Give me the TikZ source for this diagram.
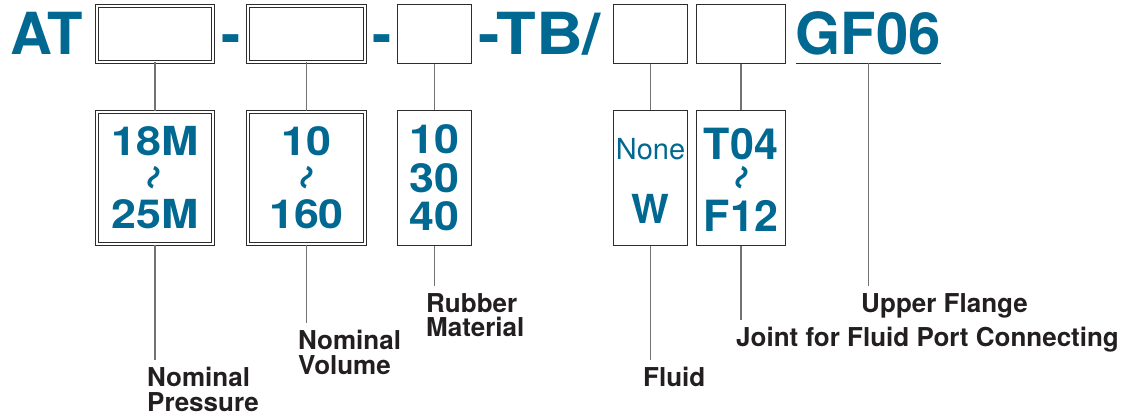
\documentclass[tikz,border=0pt]{standalone}
\usepackage{fontspec}
\setmainfont{TeX Gyre Heros}
\newfontfamily\widefont{TeX Gyre Heros}[FakeStretch=1.12]
\usepackage{xcolor}
\definecolor{atblue}{RGB}{0,104,145}
\definecolor{lbltext}{RGB}{35,31,32}
\definecolor{boxgray}{RGB}{45,45,45}
\definecolor{rulegray}{RGB}{115,115,115}

\begin{document}
\begin{tikzpicture}[x=1pt,y=-1pt,
    title/.style={font=\bfseries\fontsize{58}{58}\selectfont,text=atblue,inner sep=0pt},
    codebox/.style={draw=boxgray,line width=1.3pt,inner sep=0pt,minimum width=#1,minimum height=59pt},
    dblcode/.style={draw=boxgray,double,double distance=2pt,line width=1pt,inner sep=0pt,minimum width=#1,minimum height=56pt},
    specbox/.style={draw=boxgray,line width=1.3pt,inner sep=0pt,minimum width=#1,minimum height=135pt,align=center,text=atblue},
    dblspec/.style={draw=boxgray,double,double distance=2pt,line width=1pt,inner sep=0pt,minimum width=#1,minimum height=132pt,align=center,text=atblue},
    wave/.style={font=\bfseries\fontsize{48}{48}\selectfont,text=atblue,rotate=70,inner sep=0pt},
    link/.style={draw=rulegray,line width=1.2pt},
    lbl/.style={anchor=north west,align=left,inner xsep=0pt,inner ysep=7pt,text=lbltext,font=\bfseries\fontsize{26}{24.5}\selectfont}]

    \useasboundingbox (0,0) rectangle (1131,417);

    % Kode pesanan di baris atas
    \node[title,anchor=base west] (at) at (10,55) {AT};
    \node[dblcode=116pt] (c1) at (155,34) {};
    \node[title,anchor=base] (d1) at (231,55) {-};
    \node[dblcode=117pt] (c2) at (306.5,34) {};
    \node[title,anchor=base] (d2) at (382,55) {-};
    \node[codebox=73.7pt] (c3) at (434.5,34) {};
    \node[title,font=\widefont\bfseries\fontsize{58}{58}\selectfont,anchor=base west] (tb) at (478,55) {-TB/};
    \node[codebox=73.7pt] (c4) at (650.5,34) {};
    \node[codebox=88.7pt] (c5) at (741,34) {};
    \node[title,anchor=base west] (gf) at (795.5,55) {GF06};

    % Garis bawah GF06
    \draw[draw=boxgray,line width=1.3pt] ([yshift=-8.5pt]gf.base west) -- ([yshift=-8.5pt]gf.base east);
    \coordinate (gfu) at ([yshift=-8.5pt]gf.base);

    % Kotak pilihan
    \node[dblspec=116pt,font=\widefont\bfseries\fontsize{40}{73}\selectfont] (sA) at (155,178) {18M\\25M};
    \node[wave] (wA) at (157.2,178.8) {\textasciitilde};
    \node[dblspec=117pt,font=\widefont\bfseries\fontsize{40}{73}\selectfont] (sB) at (306.5,178) {10\\160};
    \node[wave] (wB) at (310.2,178.8) {\textasciitilde};
    \node[specbox=73.7pt,font=\widefont\bfseries\fontsize{40}{38.5}\selectfont] (sC) at (434.5,178) {10\\30\\40};
    \node[specbox=73.7pt,font=\bfseries\fontsize{40}{36.5}\selectfont] (sD) at (650.5,178)
        {{\mdseries\fontsize{29}{29}\selectfont\rule{0pt}{27pt}None}\\[28pt]W};
    \node[specbox=88.7pt,font=\bfseries\fontsize{43}{71.7}\selectfont] (sE) at (741,178) {\rule{0pt}{35.5pt}T04\\F12};
    \node[wave] (wE) at (745.7,178.8) {\textasciitilde};

    % Keterangan
    \node[lbl] (lP) at (147,360) {Nominal\\Pressure};
    \node[lbl] (lV) at (298,323) {Nominal\\Volume};
    \node[lbl] (lR) at (426,286) {Rubber\\Material};
    \node[lbl] (lF) at (643,360) {Fluid};
    \node[lbl] (lU) at (861,286) {Upper Flange};
    \node[lbl] (lJ) at (736,320) {Joint for Fluid Port Connecting};

    % Garis penghubung
    \draw[link] (c1) -- (sA);
    \draw[link] (c2) -- (sB);
    \draw[link] (c3) -- (sC);
    \draw[link] (c4) -- (sD);
    \draw[link] (c5) -- (sE);
    \draw[link] (sA) -- (sA |- lP.north);
    \draw[link] (sB) -- (sB |- lV.north);
    \draw[link] (sC) -- (sC |- lR.north);
    \draw[link] (sD) -- (sD |- lF.north);
    \draw[link] (sE) -- (sE |- lJ.north);
    \draw[link] (gfu) -- (gfu |- lU.north);

\end{tikzpicture}
\end{document}
